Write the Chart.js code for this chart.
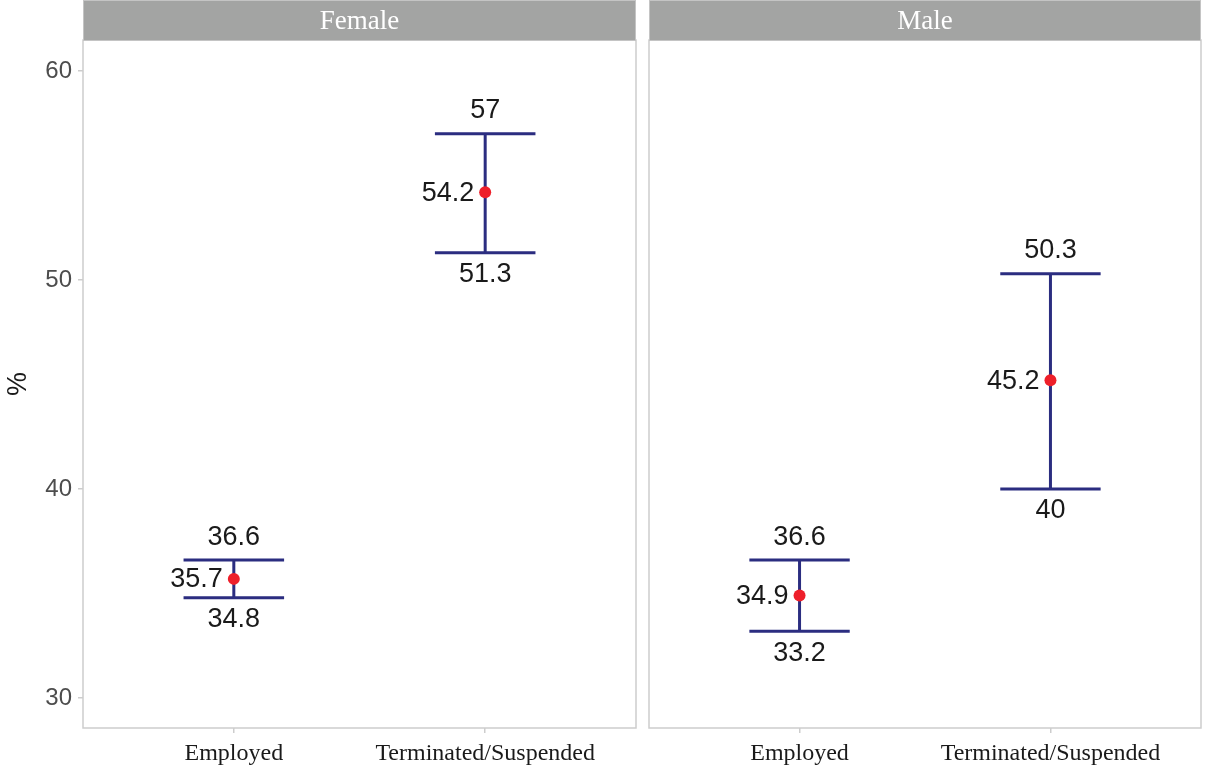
<!DOCTYPE html>
<html>
<head>
<meta charset="utf-8">
<script src="https://cdn.jsdelivr.net/npm/chart.js@4/dist/chart.umd.min.js"></script>
<style>
  html, body { margin: 0; padding: 0; background: #ffffff; }
  #wrap { position: relative; width: 1205px; height: 767px; overflow: hidden; }
  canvas { position: absolute; top: 0; }
  #c1 { left: 0; }
  #c2 { left: 643px; }
</style>
</head>
<body>
<div id="wrap">
  <canvas id="c1" width="642" height="767"></canvas>
  <canvas id="c2" width="564" height="767"></canvas>
</div>
<script>
// Categories and facets
const categories = ["Employed", "Terminated/Suspended"];
const panels = ["Female", "Male"];

// Percentages with confidence limits
const femaleMean = [35.7, 54.2];
const femaleLower = [34.8, 51.3];
const femaleUpper = [36.6, 57];
const maleMean = [34.9, 45.2];
const maleLower = [33.2, 40];
const maleUpper = [36.6, 50.3];

// Y axis ticks
const yTicks = [30, 40, 50, 60];

const BAR_COLOR = "#2b2d80";
const POINT_COLOR = "#ee1f2a";
const BORDER_COLOR = "#cdcdcd";
const STRIP_COLOR = "#a3a4a3";
const SANS = "'Liberation Sans', Arial, sans-serif";
const SERIF = "'Liberation Serif', 'Times New Roman', serif";

// Draws the facet strip, the panel frame, the interval bars and the value labels
const facetPlugin = {
  id: "facet",
  beforeDatasetsDraw(chart) {
    const { ctx, chartArea: a, scales } = chart;
    const opts = chart.options.plugins.facet;
    ctx.save();
    // panel frame
    ctx.strokeStyle = BORDER_COLOR;
    ctx.lineWidth = 1.5;
    ctx.strokeRect(a.left, a.top, a.right - a.left, a.bottom - a.top);
    // strip
    ctx.fillStyle = STRIP_COLOR;
    ctx.fillRect(a.left, 1, a.right - a.left, a.top - 1);
    ctx.strokeStyle = "#c4c4c4";
    ctx.lineWidth = 1;
    ctx.strokeRect(a.left + 0.5, 0.5, a.right - a.left - 1, a.top);
    ctx.fillStyle = "#ffffff";
    ctx.font = "27px " + SERIF;
    ctx.textAlign = "center";
    ctx.textBaseline = "middle";
    ctx.fillText(opts.title, (a.left + a.right) / 2, a.top / 2 + 2);

    // interval bars
    const xs = scales.x, ys = scales.y;
    ctx.strokeStyle = BAR_COLOR;
    ctx.lineWidth = 3;
    ctx.lineCap = "butt";
    opts.lower.forEach((lo, i) => {
      const hi = opts.upper[i];
      const x = xs.getPixelForValue(i);
      const half = xs.getPixelForValue(i + 0.2) - x;
      const yLo = ys.getPixelForValue(lo);
      const yHi = ys.getPixelForValue(hi);
      ctx.beginPath();
      ctx.moveTo(x, yLo); ctx.lineTo(x, yHi);
      ctx.moveTo(x - half, yHi); ctx.lineTo(x + half, yHi);
      ctx.moveTo(x - half, yLo); ctx.lineTo(x + half, yLo);
      ctx.stroke();
    });
    ctx.restore();
  },
  afterDatasetsDraw(chart) {
    const { ctx, scales } = chart;
    const opts = chart.options.plugins.facet;
    const xs = scales.x, ys = scales.y;
    ctx.save();
    ctx.fillStyle = "#1a1a1a";
    ctx.font = "27px " + SANS;
    ctx.textBaseline = "middle";
    opts.mean.forEach((m, i) => {
      const x = xs.getPixelForValue(i);
      const yHi = ys.getPixelForValue(opts.upper[i]);
      const yLo = ys.getPixelForValue(opts.lower[i]);
      const yM = ys.getPixelForValue(m);
      ctx.textAlign = "center";
      ctx.fillText(String(opts.upper[i]), x, yHi - 23);
      ctx.fillText(String(opts.lower[i]), x, yLo + 22);
      ctx.textAlign = "right";
      ctx.fillText(String(m), x - 11, yM + 1);
    });
    ctx.restore();
  }
};

function makePanel(canvasId, title, mean, lower, upper, showY) {
  return new Chart(document.getElementById(canvasId), {
    type: "scatter",
    data: {
      datasets: [{
        data: mean.map((v, i) => ({ x: i, y: v })),
        backgroundColor: POINT_COLOR,
        borderColor: POINT_COLOR,
        pointRadius: 6,
        pointHoverRadius: 6,
        borderWidth: 0
      }]
    },
    options: {
      responsive: false,
      animation: false,
      events: [],
      layout: { padding: { top: 40, right: 2, bottom: 0, left: showY ? 0 : 4 } },
      plugins: {
        legend: { display: false },
        tooltip: { enabled: false },
        facet: { title, mean, lower, upper }
      },
      scales: {
        x: {
          type: "linear",
          min: -0.6,
          max: 1.6,
          afterBuildTicks(scale) { scale.ticks = categories.map((_, i) => ({ value: i })); },
          afterFit(scale) { scale.height = 39; },
          ticks: {
            callback: (v) => categories[v],
            color: "#1a1a1a",
            font: { family: SERIF, size: 24 },
            padding: 6,
            maxRotation: 0,
            autoSkip: false
          },
          grid: { display: true, drawOnChartArea: false, drawTicks: true, tickLength: 5, color: BORDER_COLOR, lineWidth: 1.5 },
          border: { display: false }
        },
        y: {
          display: showY,
          min: 28.565,
          max: 61.483,
          afterBuildTicks(scale) { scale.ticks = yTicks.map(v => ({ value: v })); },
          afterFit(scale) { if (showY) scale.width = 83; },
          ticks: {
            color: "#4d4d4d",
            font: { family: SANS, size: 24 },
            padding: 6
          },
          title: {
            display: true,
            text: "%",
            color: "#1a1a1a",
            font: { family: SANS, size: 27 },
            padding: { top: 2, bottom: 0 }
          },
          grid: { display: true, drawOnChartArea: false, drawTicks: true, tickLength: 5, color: BORDER_COLOR, lineWidth: 1.5 },
          border: { display: false }
        }
      }
    },
    plugins: [facetPlugin]
  });
}

makePanel("c1", panels[0], femaleMean, femaleLower, femaleUpper, true);
makePanel("c2", panels[1], maleMean, maleLower, maleUpper, false);
</script>
</body>
</html>
